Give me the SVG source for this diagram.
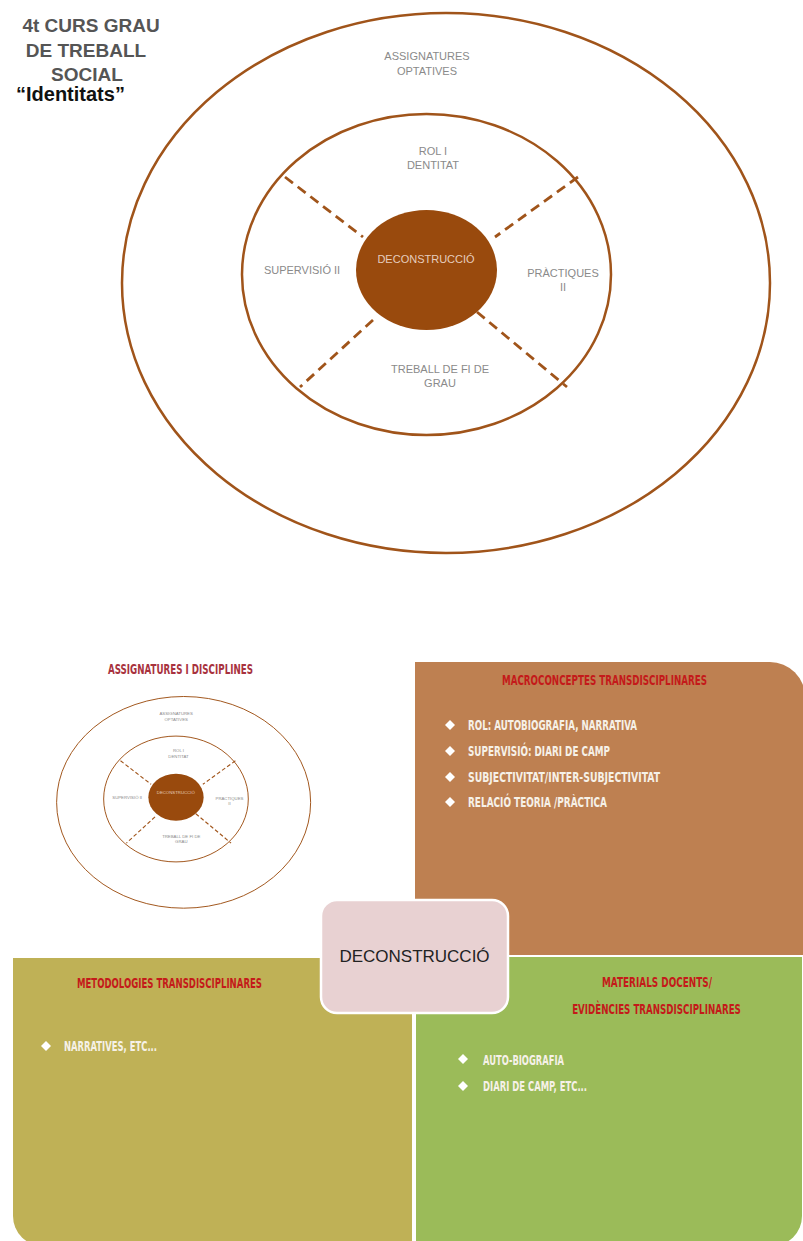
<svg xmlns="http://www.w3.org/2000/svg" xmlns:xlink="http://www.w3.org/1999/xlink" width="803" height="1241" viewBox="0 0 803 1241">
<defs>
<style>
.ring{fill:none;stroke:#A0541A;stroke-width:2.5}
.core{fill:#994A0D}
.dash{fill:none;stroke:#A0541A;stroke-width:2.8;stroke-dasharray:10 6}
.lbl{font-family:"Liberation Sans",Arial,sans-serif;font-size:11px;fill:#8a8a8a;text-anchor:middle}
.corelbl{font-family:"Liberation Sans",Arial,sans-serif;font-size:11px;fill:#E6CDBE;text-anchor:middle}
.title{font-family:"Liberation Sans",Arial,sans-serif;font-weight:bold;font-size:19px;fill:#555555;text-anchor:middle}
.cond{font-family:"DejaVu Sans",sans-serif;font-stretch:condensed;font-weight:bold;font-size:13.5px;text-anchor:middle}
.red{fill:#C41A1A}
.maroon{fill:#A8323E}
.wht{fill:#F6F1E8}
.dia{fill:#FFFFFF}
</style>
</defs>

<g id="title">
<text class="title" x="91" y="32">4t CURS GRAU</text>
<text class="title" x="86" y="57">DE TREBALL</text>
<text class="title" x="87" y="81">SOCIAL</text>
<text x="16" y="101" style="font-family:'Liberation Sans',Arial,sans-serif;font-weight:bold;font-size:20px;fill:#111111">“Identitats”</text>
</g>

<g id="identitats-diagram">
<g id="outer-ring">
<ellipse class="ring" cx="446" cy="283" rx="324" ry="270"/>
<text class="lbl" x="427" y="60">ASSIGNATURES</text>
<text class="lbl" x="427" y="75">OPTATIVES</text>
</g>
<g id="inner-ring">
<ellipse class="ring" cx="426.5" cy="274.5" rx="184.5" ry="160.5"/>
</g>
<g id="connectors">
<path class="dash" d="M285,177 L363,237"/>
<path class="dash" d="M578,177 L495,237"/>
<path class="dash" d="M373,320 L300,387"/>
<path class="dash" d="M477,312 L567,387"/>
</g>
<g id="rol">
<text class="lbl" x="433" y="155">ROL I</text>
<text class="lbl" x="433" y="169">DENTITAT</text>
</g>
<g id="supervisio">
<text class="lbl" x="302" y="274">SUPERVISIÓ II</text>
</g>
<g id="practiques">
<text class="lbl" x="563" y="277">PRÀCTIQUES</text>
<text class="lbl" x="563" y="291">II</text>
</g>
<g id="treball">
<text class="lbl" x="440" y="373">TREBALL DE FI DE</text>
<text class="lbl" x="440" y="387">GRAU</text>
</g>
<g id="core">
<ellipse class="core" cx="426.5" cy="270" rx="70.5" ry="60"/>
<text class="corelbl" x="426" y="263">DECONSTRUCCIÓ</text>
</g>
</g>

<g id="assignatures-quadrant">
<text class="cond maroon" x="180.5" y="674" textLength="145" lengthAdjust="spacingAndGlyphs">ASSIGNATURES I DISCIPLINES</text>
<use xlink:href="#identitats-diagram" href="#identitats-diagram" transform="translate(8.8,691.4) scale(0.392)"/>
</g>

<g id="macroconceptes">
<path d="M415,662 H770 A35,35 0 0 1 805,697 V955 H415 Z" fill="#BE8051"/>
<text class="cond red" x="604.5" y="685" textLength="205" lengthAdjust="spacingAndGlyphs">MACROCONCEPTES TRANSDISCIPLINARES</text>
<path class="dia" d="M450,720 L455,725 L450,730 L445,725 Z"/>
<text class="cond wht" x="552.5" y="730" textLength="169" lengthAdjust="spacingAndGlyphs">ROL: AUTOBIOGRAFIA, NARRATIVA</text>
<path class="dia" d="M450,746 L455,751 L450,756 L445,751 Z"/>
<text class="cond wht" x="539" y="756" textLength="142" lengthAdjust="spacingAndGlyphs">SUPERVISIÓ: DIARI DE CAMP</text>
<path class="dia" d="M450,772 L455,777 L450,782 L445,777 Z"/>
<text class="cond wht" x="564" y="782" textLength="192" lengthAdjust="spacingAndGlyphs">SUBJECTIVITAT/INTER-SUBJECTIVITAT</text>
<path class="dia" d="M450,797 L455,802 L450,807 L445,802 Z"/>
<text class="cond wht" x="537.5" y="807" textLength="139" lengthAdjust="spacingAndGlyphs">RELACIÓ TEORIA /PRÀCTICA</text>
</g>

<g id="metodologies">
<path d="M13,958 H412 V1246 H43 A30,30 0 0 1 13,1216 Z" fill="#BFB156"/>
<text class="cond red" x="169.5" y="988" textLength="185" lengthAdjust="spacingAndGlyphs">METODOLOGIES TRANSDISCIPLINARES</text>
<path class="dia" d="M46,1041 L51,1046 L46,1051 L41,1046 Z"/>
<text class="cond wht" x="110.5" y="1051" textLength="93" lengthAdjust="spacingAndGlyphs">NARRATIVES, ETC...</text>
</g>

<g id="materials">
<path d="M416,957 H802 V1216 A30,30 0 0 1 772,1246 H416 Z" fill="#9BBB59"/>
<text class="cond red" x="657" y="987" textLength="110" lengthAdjust="spacingAndGlyphs">MATERIALS DOCENTS/</text>
<text class="cond red" transform="translate(656.5,1014) scale(0.7,1)" x="0" y="0" textLength="241" lengthAdjust="spacingAndGlyphs">EVIDÈNCIES TRANSDISCIPLINARES</text>
<path class="dia" d="M463,1054 L468,1059 L463,1064 L458,1059 Z"/>
<text class="cond wht" x="523.5" y="1065" textLength="81" lengthAdjust="spacingAndGlyphs">AUTO-BIOGRAFIA</text>
<path class="dia" d="M463,1081 L468,1086 L463,1091 L458,1086 Z"/>
<text class="cond wht" x="535" y="1091" textLength="104" lengthAdjust="spacingAndGlyphs">DIARI DE CAMP, ETC...</text>
</g>

<g id="deconstruccio">
<rect x="321" y="900" width="187" height="113" rx="16" ry="16" fill="#E8D1D2" stroke="#FFFFFF" stroke-width="2.5"/>
<text x="414.5" y="962" text-anchor="middle" style="font-family:'Liberation Sans',Arial,sans-serif;font-size:17px;fill:#222222">DECONSTRUCCIÓ</text>
</g>
</svg>
